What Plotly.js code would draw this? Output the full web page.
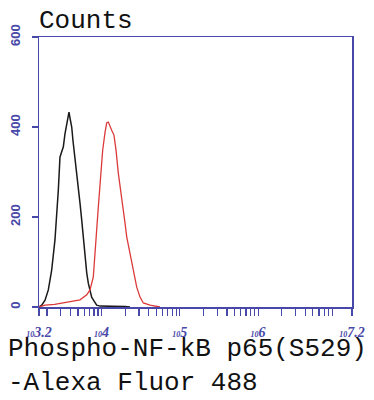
<!DOCTYPE html>
<html>
<head>
<meta charset="utf-8">
<script src="https://cdn.plot.ly/plotly-3.0.1.min.js"></script>
<style>html,body{margin:0;padding:0;background:#fff;}#chart{width:374px;height:400px;}</style>
</head>
<body>
<div id="chart"></div>
<script>
// log10 of fluorescence intensity, and event counts
const controlLog = [3.2, 3.235, 3.277, 3.319, 3.362, 3.404, 3.447, 3.468, 3.490, 3.511, 3.532, 3.554, 3.571, 3.583, 3.596, 3.618, 3.634, 3.660, 3.682, 3.702, 3.724, 3.746, 3.766, 3.788, 3.810, 3.830, 3.852, 3.873, 3.894, 3.937, 3.980, 4.107, 4.235, 4.299, 4.363];
const controlCounts = [0, 4, 15, 38, 82, 149, 260, 333, 345, 356, 385, 409, 425, 433, 420, 400, 370, 333, 304, 267, 231, 193, 156, 111, 76, 53, 38, 22, 16, 4, 2, 2, 2, 1, 0];

const sampleLog = [3.2, 3.277, 3.40, 3.511, 3.62, 3.724, 3.810, 3.852, 3.894, 3.916, 3.937, 3.958, 3.980, 3.992, 4.014, 4.043, 4.065, 4.086, 4.107, 4.129, 4.158, 4.184, 4.213, 4.244, 4.277, 4.299, 4.321, 4.354, 4.385, 4.414, 4.449, 4.491, 4.533, 4.619, 4.746];
const sampleCounts = [0, 4, 6, 9, 12, 16, 27, 38, 67, 111, 171, 222, 276, 311, 349, 387, 409, 411, 400, 393, 382, 349, 298, 260, 222, 187, 156, 127, 98, 67, 44, 22, 9, 4, 0];

const xTickExp = [3.2, 4, 5, 6, 7.2];
const xTickText = ['3.2', '4', '5', '6', '7.2'];
const yTickVals = [0, 200, 400, 600];
const yTickText = ['0', '200', '400', '600'];

const axisColor = '#4848a8';
const minorVals = [];
for (let n = 3; n <= 7; n++) {
  for (let m = 2; m <= 9; m++) {
    const v = m * Math.pow(10, n);
    if (Math.log10(v) > 3.2 && Math.log10(v) < 7.2) minorVals.push(v);
  }
}

const traces = [
  {x: controlLog.map(v => Math.pow(10, v)), y: controlCounts, type: 'scatter', mode: 'lines',
   line: {color: '#1a1a1a', width: 1.5}, hoverinfo: 'skip'},
  {x: sampleLog.map(v => Math.pow(10, v)), y: sampleCounts, type: 'scatter', mode: 'lines',
   line: {color: '#dc3a3a', width: 1.3}, hoverinfo: 'skip'}
];

const layout = {
  width: 374, height: 400,
  margin: {l: 39, r: 22, t: 37, b: 93, pad: 0},
  paper_bgcolor: '#fff', plot_bgcolor: '#fff',
  showlegend: false,
  xaxis: {
    type: 'log', range: [3.2, 7.2],
    showline: true, linecolor: axisColor, linewidth: 1.5, mirror: true,
    showgrid: false, zeroline: false,
    ticks: 'outside', ticklen: 7, tickwidth: 1.2, tickcolor: axisColor,
    tickmode: 'array',
    tickvals: xTickExp.map(v => Math.pow(10, v)),
    ticktext: xTickText.map(t => '<span style="font-size:8px">10</span><span style="font-size:14px">' + t + '</span>'),
    tickfont: {family: 'Liberation Serif', size: 14, color: axisColor, weight: 'bold', style: 'italic'},
    tickangle: 0,
    ticklabelstandoff: 5,
    minor: {tickmode: 'array', tickvals: minorVals, ticks: 'outside', ticklen: 7, tickwidth: 1.2, tickcolor: axisColor, showgrid: false}
  },
  yaxis: {
    range: [0, 600],
    showline: true, linecolor: axisColor, linewidth: 1.5, mirror: true,
    showgrid: false, zeroline: false,
    ticks: 'outside', ticklen: 6, tickwidth: 1.2, tickcolor: axisColor,
    tickmode: 'array', tickvals: yTickVals, ticktext: yTickText,
    tickangle: -90,
    tickfont: {family: 'Liberation Sans Narrow, Liberation Sans', size: 13, color: axisColor, weight: 'bold'},
    ticklabelstandoff: 6
  },
  annotations: [
    {text: 'Counts', xref: 'paper', yref: 'paper', x: -0.006, y: 1, xanchor: 'left', yanchor: 'bottom',
     yshift: -1, showarrow: false, font: {family: 'Liberation Mono', size: 26, color: '#111'}},
    {text: 'Phospho-NF-kB p65(S529)<br>-Alexa Fluor 488', xref: 'paper', yref: 'paper',
     x: -0.105, y: -0.092, xanchor: 'left', yanchor: 'top', align: 'left', showarrow: false,
     font: {family: 'Liberation Mono', size: 26, color: '#111'}}
  ]
};

Plotly.newPlot('chart', traces, layout, {staticPlot: true, displayModeBar: false});
</script>
</body>
</html>
